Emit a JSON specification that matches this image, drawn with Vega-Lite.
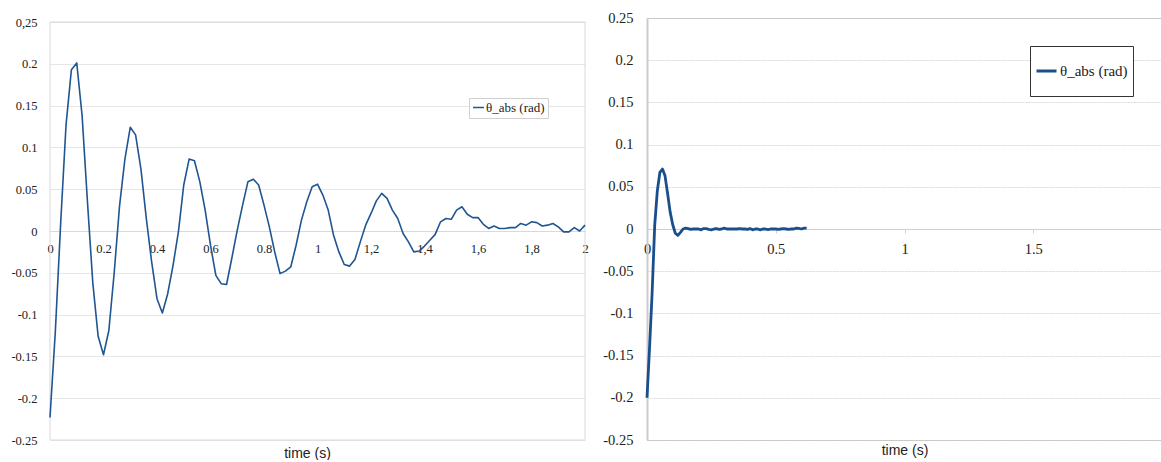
{
  "$schema": "https://vega.github.io/schema/vega-lite/v6.json",
  "background": "white",
  "padding": {"left": 10, "top": 9, "right": 0, "bottom": 0},
  "autosize": {"type": "pad"},
  "config": {
    "axis": {"labelFont": "Liberation Serif", "labelColor": "#222222", "titleFont": "Liberation Sans", "titleColor": "#222222", "titleFontWeight": "normal"}
  },
  "datasets": {
    "left": [
      {"t": 0, "theta": -0.223}, {"t": 0.02, "theta": -0.12}, {"t": 0.04, "theta": 0.01}, {"t": 0.06, "theta": 0.127},
      {"t": 0.08, "theta": 0.193}, {"t": 0.1, "theta": 0.201}, {"t": 0.12, "theta": 0.138}, {"t": 0.14, "theta": 0.035},
      {"t": 0.16, "theta": -0.062}, {"t": 0.18, "theta": -0.126}, {"t": 0.2, "theta": -0.148}, {"t": 0.22, "theta": -0.119},
      {"t": 0.24, "theta": -0.05}, {"t": 0.26, "theta": 0.03}, {"t": 0.28, "theta": 0.086}, {"t": 0.3, "theta": 0.124},
      {"t": 0.32, "theta": 0.115}, {"t": 0.34, "theta": 0.074}, {"t": 0.36, "theta": 0.015}, {"t": 0.38, "theta": -0.037},
      {"t": 0.4, "theta": -0.081}, {"t": 0.42, "theta": -0.098}, {"t": 0.44, "theta": -0.075}, {"t": 0.46, "theta": -0.041},
      {"t": 0.48, "theta": -0.001}, {"t": 0.5, "theta": 0.055}, {"t": 0.52, "theta": 0.086}, {"t": 0.54, "theta": 0.084},
      {"t": 0.56, "theta": 0.059}, {"t": 0.58, "theta": 0.025}, {"t": 0.6, "theta": -0.017}, {"t": 0.62, "theta": -0.053},
      {"t": 0.64, "theta": -0.063}, {"t": 0.66, "theta": -0.064}, {"t": 0.68, "theta": -0.032}, {"t": 0.7, "theta": 0.001},
      {"t": 0.72, "theta": 0.031}, {"t": 0.74, "theta": 0.059}, {"t": 0.76, "theta": 0.062}, {"t": 0.78, "theta": 0.055},
      {"t": 0.8, "theta": 0.031}, {"t": 0.82, "theta": 0.005}, {"t": 0.84, "theta": -0.025}, {"t": 0.86, "theta": -0.051},
      {"t": 0.88, "theta": -0.048}, {"t": 0.9, "theta": -0.043}, {"t": 0.92, "theta": -0.017}, {"t": 0.94, "theta": 0.013},
      {"t": 0.96, "theta": 0.035}, {"t": 0.98, "theta": 0.053}, {"t": 1.0, "theta": 0.056}, {"t": 1.02, "theta": 0.043},
      {"t": 1.04, "theta": 0.025}, {"t": 1.06, "theta": -0.005}, {"t": 1.08, "theta": -0.025}, {"t": 1.1, "theta": -0.04},
      {"t": 1.12, "theta": -0.042}, {"t": 1.14, "theta": -0.034}, {"t": 1.16, "theta": -0.013}, {"t": 1.18, "theta": 0.007},
      {"t": 1.2, "theta": 0.021}, {"t": 1.22, "theta": 0.036}, {"t": 1.24, "theta": 0.045}, {"t": 1.26, "theta": 0.039},
      {"t": 1.28, "theta": 0.025}, {"t": 1.3, "theta": 0.015}, {"t": 1.32, "theta": -0.003}, {"t": 1.34, "theta": -0.013},
      {"t": 1.36, "theta": -0.025}, {"t": 1.38, "theta": -0.024}, {"t": 1.4, "theta": -0.018}, {"t": 1.42, "theta": -0.011},
      {"t": 1.44, "theta": -0.004}, {"t": 1.46, "theta": 0.011}, {"t": 1.48, "theta": 0.015}, {"t": 1.5, "theta": 0.014},
      {"t": 1.52, "theta": 0.025}, {"t": 1.54, "theta": 0.029}, {"t": 1.56, "theta": 0.02}, {"t": 1.58, "theta": 0.016},
      {"t": 1.6, "theta": 0.016}, {"t": 1.62, "theta": 0.008}, {"t": 1.64, "theta": 0.003}, {"t": 1.66, "theta": 0.006},
      {"t": 1.68, "theta": 0.003}, {"t": 1.7, "theta": 0.003}, {"t": 1.72, "theta": 0.004}, {"t": 1.74, "theta": 0.004},
      {"t": 1.76, "theta": 0.009}, {"t": 1.78, "theta": 0.007}, {"t": 1.8, "theta": 0.011}, {"t": 1.82, "theta": 0.01},
      {"t": 1.84, "theta": 0.006}, {"t": 1.86, "theta": 0.007}, {"t": 1.88, "theta": 0.009}, {"t": 1.9, "theta": 0.005},
      {"t": 1.92, "theta": -0.001}, {"t": 1.94, "theta": -0.001}, {"t": 1.96, "theta": 0.004}, {"t": 1.98, "theta": 0.0},
      {"t": 2.0, "theta": 0.007}
    ],
    "right": [
      {"t": 0, "theta": -0.2}, {"t": 0.01, "theta": -0.14}, {"t": 0.02, "theta": -0.075}, {"t": 0.03, "theta": 0.005},
      {"t": 0.04, "theta": 0.045}, {"t": 0.05, "theta": 0.067}, {"t": 0.06, "theta": 0.071}, {"t": 0.07, "theta": 0.063},
      {"t": 0.08, "theta": 0.042}, {"t": 0.09, "theta": 0.02}, {"t": 0.1, "theta": 0.005}, {"t": 0.11, "theta": -0.005},
      {"t": 0.12, "theta": -0.0075}, {"t": 0.13, "theta": -0.004}, {"t": 0.14, "theta": 0.0}, {"t": 0.15, "theta": 0.001},
      {"t": 0.16, "theta": 0.0005}, {"t": 0.17, "theta": -0.0005}, {"t": 0.18, "theta": 0.0}, {"t": 0.19, "theta": 0.0},
      {"t": 0.2, "theta": 0.0}, {"t": 0.21, "theta": -0.001}, {"t": 0.22, "theta": 0.0005}, {"t": 0.23, "theta": 0.0005},
      {"t": 0.24, "theta": -0.0005}, {"t": 0.25, "theta": -0.001}, {"t": 0.26, "theta": 0.0}, {"t": 0.27, "theta": 0.0005},
      {"t": 0.28, "theta": -0.0005}, {"t": 0.29, "theta": 0.0}, {"t": 0.3, "theta": 0.001}, {"t": 0.31, "theta": 0.0},
      {"t": 0.32, "theta": 0.0}, {"t": 0.33, "theta": 0.0}, {"t": 0.34, "theta": 0.0}, {"t": 0.35, "theta": 0.0},
      {"t": 0.36, "theta": 0.0005}, {"t": 0.37, "theta": 0.0}, {"t": 0.38, "theta": 0.0}, {"t": 0.39, "theta": -0.0005},
      {"t": 0.4, "theta": 0.0005}, {"t": 0.41, "theta": -0.001}, {"t": 0.42, "theta": 0.0}, {"t": 0.43, "theta": 0.0},
      {"t": 0.44, "theta": -0.001}, {"t": 0.45, "theta": 0.0}, {"t": 0.46, "theta": 0.0}, {"t": 0.47, "theta": -0.0008},
      {"t": 0.48, "theta": 0.0}, {"t": 0.49, "theta": 0.0}, {"t": 0.5, "theta": 0.0}, {"t": 0.51, "theta": -0.0005},
      {"t": 0.52, "theta": 0.0}, {"t": 0.53, "theta": 0.0005}, {"t": 0.54, "theta": 0.0}, {"t": 0.55, "theta": -0.0005},
      {"t": 0.56, "theta": 0.0}, {"t": 0.57, "theta": 0.0}, {"t": 0.58, "theta": 0.001}, {"t": 0.59, "theta": 0.0008},
      {"t": 0.6, "theta": 0.0}, {"t": 0.61, "theta": 0.001}, {"t": 0.62, "theta": 0.001}
    ]
  },
  "hconcat": [
    {
      "width": 535,
      "height": 422,
      "view": {"stroke": null},
      "layer": [
        {
          "data": {"values": [{}]},
          "mark": {"type": "rect", "fill": null, "stroke": "#d9d9d9", "strokeWidth": 1},
          "encoding": {
            "x": {"datum": 0, "type": "quantitative"},
            "x2": {"datum": 2},
            "y": {"datum": -0.25, "type": "quantitative"},
            "y2": {"datum": 0.25}
          }
        },
        {
          "data": {"name": "left"},
          "mark": {"type": "line", "strokeWidth": 1.6, "strokeJoin": "round"},
          "encoding": {
            "x": {
              "field": "t", "type": "quantitative",
              "scale": {"domain": [0, 2], "nice": false, "zero": false},
              "axis": {
                "title": "time (s)",
                "values": [0, 0.2, 0.4, 0.6, 0.8, 1, 1.2, 1.4, 1.6, 1.8, 2],
                "format": ".1~f",
                "labelExpr": "datum.value > 1.1 && datum.value < 1.9 ? replace(datum.label, '.', ',') : datum.label",
                "offset": -209,
                "grid": false,
                "ticks": false,
                "tickSize": 0,
                "domainColor": "#d9d9d9",
                "labelPadding": 11,
                "labelFontSize": 12.5,
                "labelFlush": false,
                "labelOverlap": false,
                "titleFontSize": 14,
                "titleX": 257,
                "titleY": 222,
                "titleAlign": "center",
                "titleBaseline": "middle"
              }
            },
            "y": {
              "field": "theta", "type": "quantitative",
              "scale": {"domain": [-0.25, 0.254785], "nice": false, "zero": false},
              "axis": {
                "title": null,
                "values": [-0.25, -0.2, -0.15, -0.1, -0.05, 0, 0.05, 0.1, 0.15, 0.2, 0.25],
                "format": ".2~f",
                "labelExpr": "datum.value > 0.24 ? '0,25' : replace(datum.label, '−', '-')",
                "grid": true,
                "gridColor": "#e6e6e6",
                "ticks": false,
                "tickSize": 0,
                "domain": false,
                "labelPadding": 13,
                "labelFontSize": 12.5,
                "labelFlush": false,
                "labelOverlap": false
              }
            },
            "color": {
              "datum": "θ_abs (rad)", "type": "nominal",
              "scale": {"range": ["#1f5591"]},
              "legend": {
                "title": null, "orient": "none", "legendX": 419, "legendY": 80,
                "symbolType": "stroke", "symbolSize": 121, "symbolStrokeWidth": 1.5,
                "labelFont": "Liberation Serif", "labelFontSize": 13, "labelColor": "#222222", "labelOffset": 1,
                "padding": 3, "strokeColor": "#d0d0d0", "fillColor": "white"
              }
            }
          }
        }
      ]
    },
    {
      "width": 515,
      "height": 422,
      "data": {"name": "right"},
      "view": {"stroke": "#c4c4c4"},
      "mark": {"type": "line", "strokeWidth": 2.8, "strokeJoin": "round", "color": "#1a4f8c"},
      "encoding": {
        "x": {
          "field": "t", "type": "quantitative",
          "scale": {"domain": [0, 2], "nice": false, "zero": false},
          "axis": {
            "title": "time (s)",
            "values": [0, 0.5, 1, 1.5, 2],
            "format": ".1~f",
            "labelExpr": "datum.value > 1.9 ? '' : datum.label",
            "offset": -211,
            "grid": false,
            "ticks": true,
            "tickSize": 4,
            "tickColor": "#d0d0d0",
            "domainColor": "#d0d0d0",
            "labelPadding": 9,
            "labelFontSize": 14.5,
            "labelFlush": false,
            "labelOverlap": false,
            "titleFontSize": 14,
            "titleX": 257.5,
            "titleY": 221,
            "titleAlign": "center",
            "titleBaseline": "middle"
          }
        },
        "y": {
          "field": "theta", "type": "quantitative",
          "scale": {"domain": [-0.25, 0.25], "nice": false, "zero": false},
          "axis": {
            "title": null,
            "values": [-0.25, -0.2, -0.15, -0.1, -0.05, 0, 0.05, 0.1, 0.15, 0.2, 0.25],
            "format": ".2~f",
            "labelExpr": "replace(datum.label, '−', '-')",
            "grid": true,
            "gridColor": "#cfcfcf",
            "gridDash": [2, 1],
            "gridWidth": 0.8,
            "ticks": false,
            "tickSize": 0,
            "domainColor": "#cccccc",
            "domainWidth": 2,
            "labelPadding": 14,
            "labelFontSize": 14.5,
            "labelFlush": false,
            "labelOverlap": false
          }
        },
        "color": {
          "datum": "θ_abs (rad)", "type": "nominal",
          "scale": {"range": ["#1a4f8c"]},
          "legend": {
            "title": null, "orient": "none", "legendX": 383, "legendY": 28,
            "symbolType": "stroke", "symbolSize": 400, "symbolStrokeWidth": 3,
            "labelFont": "Liberation Serif", "labelFontSize": 15, "labelColor": "#222222", "labelOffset": 2,
            "padding": 5, "clipHeight": 40, "strokeColor": "#333333", "fillColor": "white"
          }
        }
      }
    }
  ],
  "spacing": 62,
  "bounds": "flush",
  "resolve": {"scale": {"color": "independent"}, "legend": {"color": "independent"}}
}
